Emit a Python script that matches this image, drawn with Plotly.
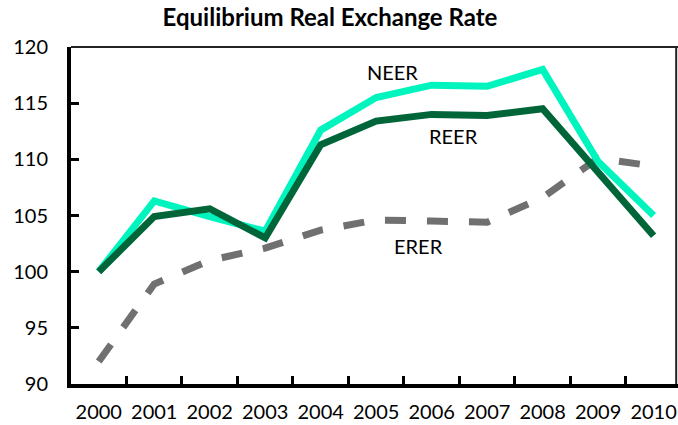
import plotly.graph_objects as go

years = ["2000", "2001", "2002", "2003", "2004", "2005", "2006", "2007", "2008", "2009", "2010"]
neer = [100.0, 106.3, 104.9, 103.6, 112.6, 115.5, 116.6, 116.5, 118.0, 109.8, 105.0]
reer = [100.0, 104.9, 105.6, 103.0, 111.3, 113.4, 114.0, 113.9, 114.5, 108.8, 103.2]
erer = [92.0, 98.9, 101.0, 102.1, 103.7, 104.6, 104.5, 104.4, 106.6, 110.1, 109.4]

FONT = "Lato"

fig = go.Figure()
fig.add_trace(go.Scatter(x=years, y=erer, mode="lines", name="ERER",
                         line=dict(color="#707070", width=7, dash="dash")))
fig.add_trace(go.Scatter(x=years, y=neer, mode="lines", name="NEER",
                         line=dict(color="#00F5BE", width=7)))
fig.add_trace(go.Scatter(x=years, y=reer, mode="lines", name="REER",
                         line=dict(color="#00663A", width=7)))

ann_style = dict(showarrow=False, font=dict(family=FONT, size=20, color="#000000"),
                 xref="x", yref="y")
fig.add_annotation(x=5.29, y=117.8, text="NEER", **ann_style)
fig.add_annotation(x=6.39, y=112.1, text="REER", **ann_style)
fig.add_annotation(x=5.76, y=102.3, text="ERER", **ann_style)

fig.update_layout(
    width=678, height=425,
    margin=dict(l=71, r=0, t=47, b=41),
    paper_bgcolor="white", plot_bgcolor="white",
    showlegend=False,
    title=dict(text="<b>Equilibrium Real Exchange Rate</b>", x=330 / 678, xanchor="center",
               y=1 - 18 / 425, yanchor="middle",
               font=dict(family=FONT, size=24, color="#000000")),
    font=dict(family=FONT, size=20, color="#000000"),
)
fig.update_xaxes(type="category", range=[-0.5, 10.44], tickson="boundaries",
                 ticks="inside", ticklen=8, tickwidth=3, tickcolor="black",
                 showline=True, linecolor="black", linewidth=4,
                 showgrid=False, zeroline=False, tickangle=0, automargin=False,
                 tickfont=dict(family=FONT, size=20, color="#000000"),
                 ticklabelstandoff=7)
fig.update_yaxes(range=[90, 120], tickvals=[90, 95, 100, 105, 110, 115, 120],
                 ticks="inside", ticklen=8, tickwidth=3, tickcolor="black",
                 showline=True, linecolor="black", linewidth=4,
                 showgrid=False, zeroline=False, automargin=False,
                 tickfont=dict(family=FONT, size=20, color="#000000"),
                 ticklabelstandoff=15)
# thin top/right frame
fig.add_shape(type="line", xref="paper", yref="paper", x0=0, x1=1, y0=1, y1=1,
              line=dict(color="#222222", width=2))
fig.add_shape(type="line", xref="paper", yref="paper", x0=0.997, x1=0.997, y0=0, y1=1,
              line=dict(color="#222222", width=2))

fig.write_html(
    "out.html",
    config={"displayModeBar": False},
    post_script="document.body.style.margin='0';document.body.style.overflow='hidden';",
)
